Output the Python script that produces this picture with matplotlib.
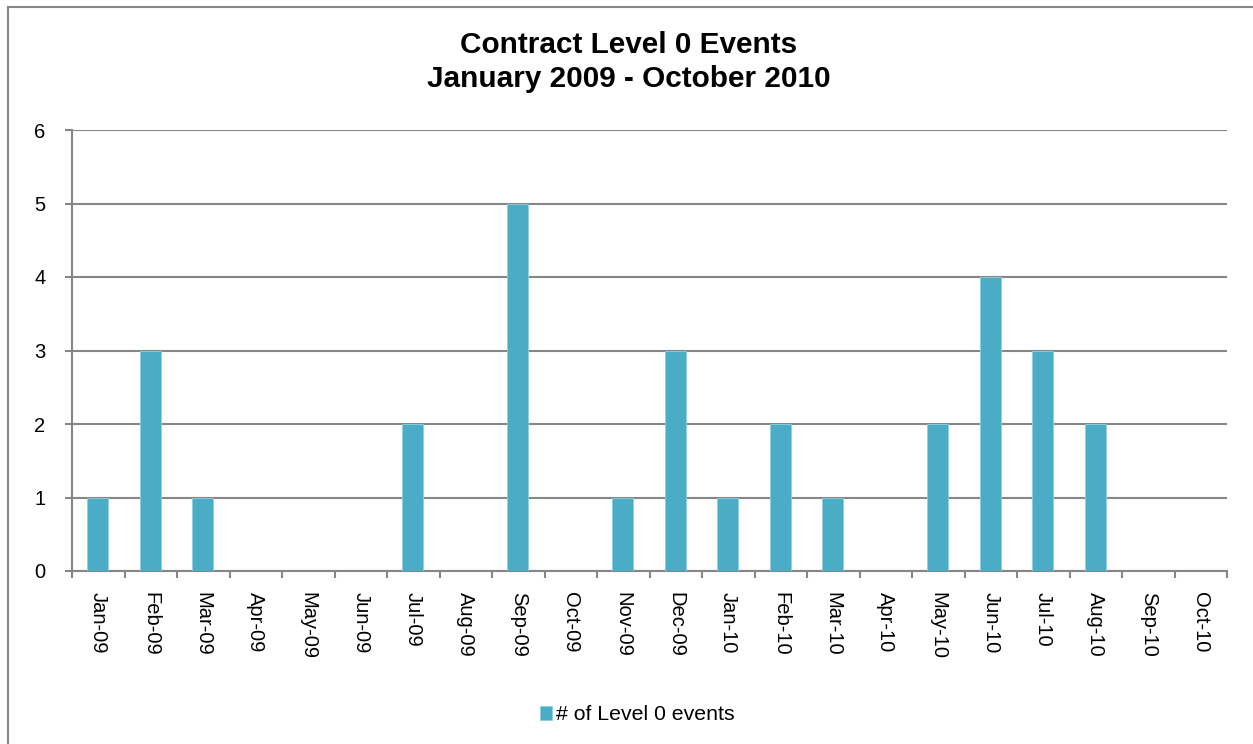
import matplotlib.pyplot as plt
import matplotlib.patches as mpatches
import numpy as np

plt.rcParams['font.family'] = ['Liberation Sans', 'DejaVu Sans']

months = ["Jan-09", "Feb-09", "Mar-09", "Apr-09", "May-09", "Jun-09", "Jul-09",
          "Aug-09", "Sep-09", "Oct-09", "Nov-09", "Dec-09", "Jan-10", "Feb-10",
          "Mar-10", "Apr-10", "May-10", "Jun-10", "Jul-10", "Aug-10", "Sep-10",
          "Oct-10"]
events = [1, 3, 1, 0, 0, 0, 2, 0, 5, 0, 1, 3, 1, 2, 1, 0, 2, 4, 3, 2, 0, 0]

W, H = 1253, 744
fig = plt.figure(figsize=(W / 100, H / 100), dpi=100)
ax = fig.add_axes([72 / W, 1 - 571 / H, (1227 - 72) / W, (571 - 130) / H])

grey = '#868686'
x = np.arange(len(months))
ax.bar(x - 0.01, events, width=0.4, color='#4BACC6', edgecolor='#8FD0E0',
       linewidth=0.6, zorder=3, label='# of Level 0 events')

ax.set_xlim(-0.5, len(months) - 0.5)
ax.set_ylim(0, 6)
ax.set_yticks(range(7))
ax.yaxis.grid(True, color=grey, linewidth=1.5, zorder=1)

ax.set_xticks(x)
ax.set_xticklabels(months, rotation=-90, fontsize=14.5)
ax.set_xticks(np.arange(-0.5, len(months)), minor=True)
ax.tick_params(axis='x', which='major', length=0, pad=15)
ax.tick_params(axis='x', which='minor', length=5, width=1.5, color=grey)
ax.tick_params(axis='y', length=5, width=1.5, color=grey, labelsize=14.5, pad=14)

for s in ['top', 'right']:
    ax.spines[s].set_visible(False)
for s in ['left', 'bottom']:
    ax.spines[s].set_color(grey)
    ax.spines[s].set_linewidth(1.5)

fig.text(629 / W, 1 - 62 / H, "Contract Level 0 Events\nJanuary 2009 - October 2010",
         ha='center', va='center', fontsize=21.4, fontweight='bold', linespacing=1.24)

fig.legend(loc='center', bbox_to_anchor=(637 / W, 1 - 715 / H), frameon=False,
           fontsize=15.3, handlelength=0.6, handleheight=0.6, handletextpad=0.15)

# outer chart border (only top and left visible in the crop)
fig.add_artist(mpatches.Rectangle((8 / W, -0.1), 1.2, 1 - 7 / H + 0.1,
                                  transform=fig.transFigure, fill=False,
                                  edgecolor=grey, linewidth=1.5))

fig.savefig("out.png", dpi=100)
